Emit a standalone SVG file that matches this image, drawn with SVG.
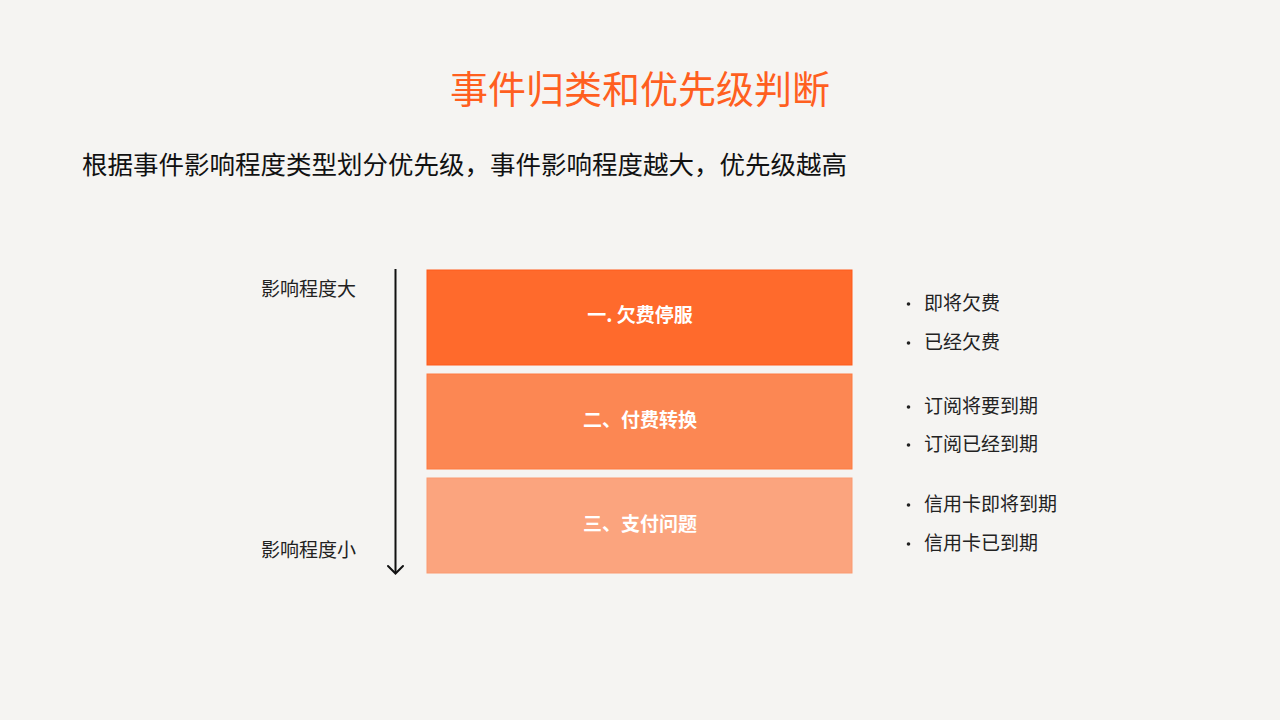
<svg xmlns="http://www.w3.org/2000/svg" width="1280" height="720" viewBox="0 0 1280 720">
<style>
.cjk{font-family:"Noto Sans CJK SC","Noto Sans",sans-serif}
.lbl{font-size:19px;fill:#222}
.box-t{font-size:19px;font-weight:bold;fill:#fff;text-anchor:middle}
</style>
<rect width="1280" height="720" fill="#F5F4F2"/>
<text class="cjk" x="640" y="103" font-size="38" fill="#FF5F1F" text-anchor="middle">事件归类和优先级判断</text>
<text class="cjk" x="82" y="174" font-size="25.5" fill="#111">根据事件影响程度类型划分优先级，事件影响程度越大，优先级越高</text>
<g id="axis-labels">
<text class="cjk lbl" x="261" y="296">影响程度大</text>
<text class="cjk lbl" x="261" y="557">影响程度小</text>
</g>
<g id="connectors" fill="none" stroke="#111" stroke-width="2">
<line x1="395.5" y1="269" x2="395.5" y2="573"/>
<polyline points="388,566 395.5,573.5 403,566" stroke-linecap="round"/>
</g>
<g id="node1">
<rect x="427" y="270" width="425" height="95" fill="#FF6A2C" stroke="#FF5A1A" stroke-width="1"/>
<text class="cjk box-t" x="640" y="322">一. 欠费停服</text>
</g>
<g id="node2">
<rect x="427" y="374" width="425" height="95" fill="#FC8753" stroke="#FF7A40" stroke-width="1"/>
<text class="cjk box-t" x="640" y="427">二、付费转换</text>
</g>
<g id="node3">
<rect x="427" y="478" width="425" height="95" fill="#FBA47E" stroke="#FB9A70" stroke-width="1"/>
<text class="cjk box-t" x="640" y="531">三、支付问题</text>
</g>
<g id="bullets" class="cjk">
<g fill="#222">
<circle cx="908.5" cy="304" r="1.8"/>
<circle cx="908.5" cy="343" r="1.8"/>
<circle cx="908.5" cy="407" r="1.8"/>
<circle cx="908.5" cy="445" r="1.8"/>
<circle cx="908.5" cy="505" r="1.8"/>
<circle cx="908.5" cy="544" r="1.8"/>
</g>
<text class="cjk lbl" x="924" y="310">即将欠费</text>
<text class="cjk lbl" x="924" y="349">已经欠费</text>
<text class="cjk lbl" x="924" y="413">订阅将要到期</text>
<text class="cjk lbl" x="924" y="451">订阅已经到期</text>
<text class="cjk lbl" x="924" y="511">信用卡即将到期</text>
<text class="cjk lbl" x="924" y="550">信用卡已到期</text>
</g>
</svg>
